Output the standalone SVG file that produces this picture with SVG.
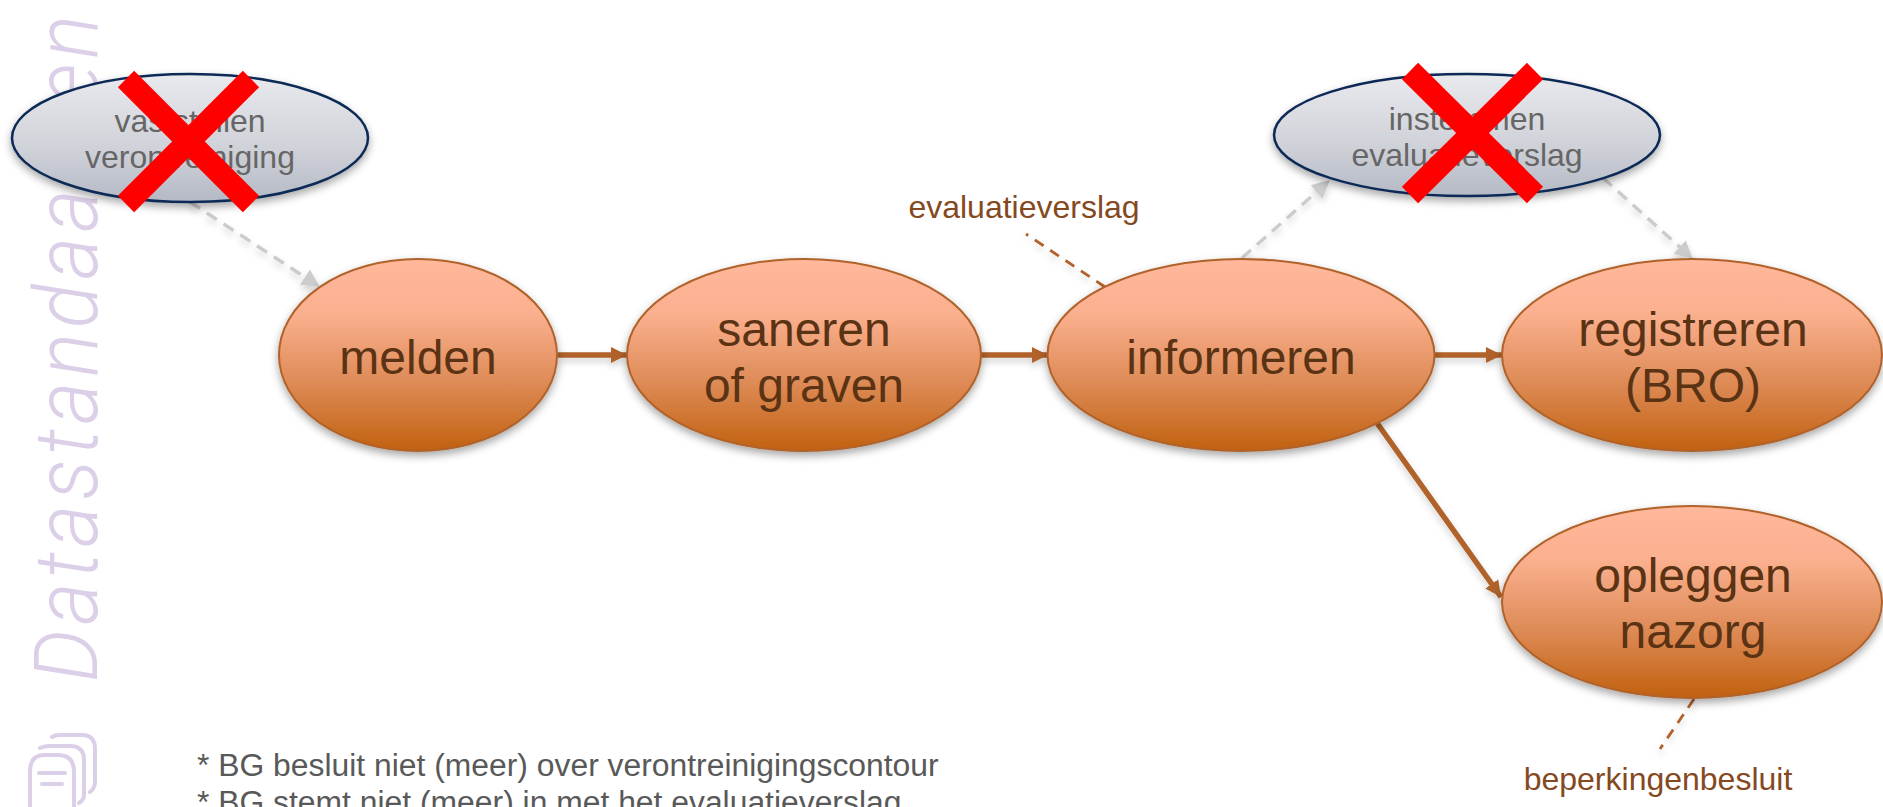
<svg xmlns="http://www.w3.org/2000/svg" width="1883" height="807" viewBox="0 0 1883 807">
<style>
text{font-family:"Liberation Sans",Arial,sans-serif}
.o{fill:url(#og);stroke:#b0622a;stroke-width:2;filter:url(#sh)}
.g{fill:url(#gg);stroke:#0c2a56;stroke-width:2.5;filter:url(#sh)}
.ot{font-size:48px;fill:#5a3214;text-anchor:middle}
.gt{font-size:32px;fill:#666;text-anchor:middle}
.lb{font-size:32px;fill:#85491f;text-anchor:middle}
.nt{font-size:31.850px;fill:#595959}
.x{stroke:#f00;stroke-width:23;fill:none}
.a{stroke:#b0622a;stroke-width:5.500;fill:none;marker-end:url(#ma)}
.d{stroke:#cccccc;stroke-width:3.500;stroke-dasharray:12 8;fill:none;marker-end:url(#md)}
.b{stroke:#b0622a;stroke-width:2.800;stroke-dasharray:10.500 8;fill:none}
.ic{stroke:#dccfe8;stroke-width:4;fill:none;stroke-linecap:round}
</style>
<defs>
<linearGradient id="og" x1="0" y1="0" x2="0" y2="1"><stop offset="0" stop-color="#ffb89b"/><stop offset=".28" stop-color="#fbb08f"/><stop offset=".65" stop-color="#dd8a55"/><stop offset="1" stop-color="#c1610f"/></linearGradient>
<linearGradient id="gg" x1="0" y1="0" x2="0" y2="1"><stop offset="0" stop-color="#e9eaee"/><stop offset=".6" stop-color="#cfd1d8"/><stop offset="1" stop-color="#b4b9c5"/></linearGradient>
<filter id="sh" x="-10%" y="-10%" width="120%" height="125%"><feDropShadow dx="0" dy="4" stdDeviation="4" flood-color="#000" flood-opacity=".35"/></filter>
<filter id="sl" filterUnits="userSpaceOnUse" x="0" y="0" width="1883" height="807"><feDropShadow dx="0" dy="4" stdDeviation="3.500" flood-color="#000" flood-opacity=".18"/></filter>
<marker id="ma" markerUnits="userSpaceOnUse" markerWidth="18" markerHeight="18" refX="16" refY="9" orient="auto"><path d="M0 1L16 9L0 17Z" fill="#b0622a"/></marker>
<marker id="md" markerUnits="userSpaceOnUse" markerWidth="20" markerHeight="20" refX="18" refY="10" orient="auto"><path d="M0 1L18 10L0 19Z" fill="#cccccc"/></marker>
</defs>
<g id="watermark">
<text transform="translate(97 682) rotate(-90) scale(.93 1)" textLength="717" lengthAdjust="spacing" style="font-family:Roboto,Lato,sans-serif;font-size:88px;font-style:italic;font-weight:300;fill:#dccfe8">Datastandaarden</text>
<path class="ic" d="M74 807V772Q74 755 58 755H44Q30 755 30 772V807"/>
<path class="ic" d="M40 748Q44 746 50 746H70Q84 746 84 760V795Q84 800 79 803"/>
<path class="ic" d="M52 737Q55 735 60 735H82Q95 735 95 749V782Q95 788 90 792"/>
<path class="ic" d="M39 773H65M42 784H62"/>
</g>
<g id="connectors" filter="url(#sl)">
<path class="d" d="M190 202L320 287"/>
<path class="d" d="M1242 258L1330 180"/>
<path class="d" d="M1603 178L1693 259"/>
<path class="a" d="M558 355H627"/>
<path class="a" d="M981 355H1048"/>
<path class="a" d="M1435 355H1502"/>
<path class="a" d="M1377 423L1501 597"/>
<path class="b" d="M1105 287L1026 234"/>
<path class="b" d="M1694 699L1660 749"/>
</g>
<g id="node-vaststellen"><ellipse class="g" cx="190" cy="138" rx="178" ry="64"/><text class="gt" x="190" y="132">vaststellen</text><text class="gt" x="190" y="168">verontreiniging</text></g>
<g id="node-instemmen"><ellipse class="g" cx="1467" cy="135" rx="193" ry="61"/><text class="gt" x="1467" y="130">instemmen</text><text class="gt" x="1467" y="166">evaluatieverslag</text></g>
<g id="node-melden"><ellipse class="o" cx="418" cy="355" rx="139" ry="96"/><text class="ot" x="418" y="374">melden</text></g>
<g id="node-saneren"><ellipse class="o" cx="804" cy="355" rx="177" ry="96"/><text class="ot" x="804" y="346">saneren</text><text class="ot" x="804" y="402">of graven</text></g>
<g id="node-informeren"><ellipse class="o" cx="1241" cy="355" rx="193.500" ry="96"/><text class="ot" x="1241" y="374">informeren</text></g>
<g id="node-registreren"><ellipse class="o" cx="1692" cy="355" rx="190" ry="96"/><text class="ot" x="1693" y="346">registreren</text><text class="ot" x="1693" y="402">(BRO)</text></g>
<g id="node-opleggen"><ellipse class="o" cx="1692" cy="602" rx="190" ry="96"/><text class="ot" x="1693" y="592">opleggen</text><text class="ot" x="1693" y="648">nazorg</text></g>
<g id="cross-1"><path class="x" d="M126 79L251 204M251 79L126 204"/></g>
<g id="cross-2"><path class="x" d="M1410 71L1535 195M1535 71L1410 195"/></g>
<g id="labels">
<text class="lb" x="1024" y="218">evaluatieverslag</text>
<text class="lb" x="1658" y="790">beperkingenbesluit</text>
<text class="nt" x="197" y="776">* BG besluit niet (meer) over verontreinigingscontour</text>
<text class="nt" x="197" y="813">* BG stemt niet (meer) in met het evaluatieverslag</text>
</g>
</svg>
